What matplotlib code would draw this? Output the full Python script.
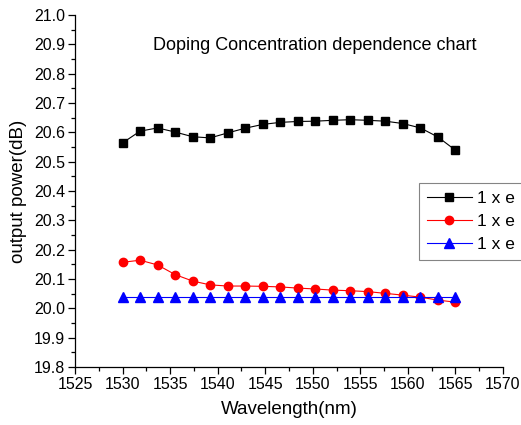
import matplotlib
matplotlib.use('Agg')
import matplotlib.pyplot as plt

plt.rcParams['font.family'] = ['Liberation Sans', 'DejaVu Sans']

# wavelength points (nm)
wavelength = [1530.00, 1531.84, 1533.68, 1535.53, 1537.37, 1539.21, 1541.05,
              1542.89, 1544.74, 1546.58, 1548.42, 1550.26, 1552.11, 1553.95,
              1555.79, 1557.63, 1559.47, 1561.32, 1563.16, 1565.00]

# output power (dB) per doping concentration
power_a = [20.564, 20.604, 20.615, 20.601, 20.585, 20.581, 20.598, 20.614,
           20.627, 20.634, 20.637, 20.638, 20.641, 20.643, 20.641, 20.638,
           20.630, 20.615, 20.584, 20.539]
power_b = [20.157, 20.164, 20.148, 20.115, 20.093, 20.080, 20.076, 20.076,
           20.075, 20.073, 20.069, 20.066, 20.062, 20.060, 20.057, 20.051,
           20.045, 20.038, 20.028, 20.021]
power_c = [20.040] * 20

labels = ['1 x e', '1 x e', '1 x e']

W, H = 521, 425
fig = plt.figure(figsize=(W / 100, H / 100), dpi=100)
ax = fig.add_axes([75 / W, 1 - 367 / H, (503 - 75) / W, (367 - 15) / H])

ax.plot(wavelength, power_a, color='black', marker='s', ms=5.5, lw=0.8,
        mfc='black', mec='black', label=labels[0])
ax.plot(wavelength, power_b, color='red', marker='o', ms=6, lw=0.8,
        mfc='red', mec='red', label=labels[1])
ax.plot(wavelength, power_c, color='blue', marker='^', ms=6.5, lw=0.8,
        mfc='blue', mec='blue', label=labels[2])

ax.set_xlim(1525, 1570)
ax.set_ylim(19.8, 21.0)
ax.set_xticks(range(1525, 1571, 5))
ax.set_xticks([1527.5 + 5 * i for i in range(9)], minor=True)
ax.set_yticks([19.8 + 0.1 * i for i in range(13)])
ax.set_yticks([19.85 + 0.1 * i for i in range(12)], minor=True)
ax.yaxis.set_major_formatter(matplotlib.ticker.FormatStrFormatter('%.1f'))

for s in ['top', 'right']:
    ax.spines[s].set_visible(False)
for s in ['left', 'bottom']:
    ax.spines[s].set_linewidth(0.9)
ax.tick_params(which='major', direction='out', length=5, width=0.9,
               labelsize=11.5, pad=2)
ax.tick_params(which='minor', direction='out', length=3, width=0.9)

ax.set_xlabel('Wavelength(nm)', fontsize=13.5, labelpad=7)
ax.set_ylabel('output power(dB)', fontsize=13.5, labelpad=5)

fig.text(315 / W, 1 - 46 / H, 'Doping Concentration dependence chart',
         fontsize=13, ha='center', va='center')

leg = fig.legend(loc='upper left', mode='expand',
                 bbox_to_anchor=(419 / W, 1 - 257 / H, 0.3, (257 - 183) / H),
                 fontsize=12.5, frameon=True, fancybox=False, edgecolor='#666666',
                 handlelength=2.6, handletextpad=0.3, borderpad=0.45,
                 labelspacing=0.45, borderaxespad=0)
leg.get_frame().set_linewidth(0.8)

fig.savefig('out.png', dpi=100)
